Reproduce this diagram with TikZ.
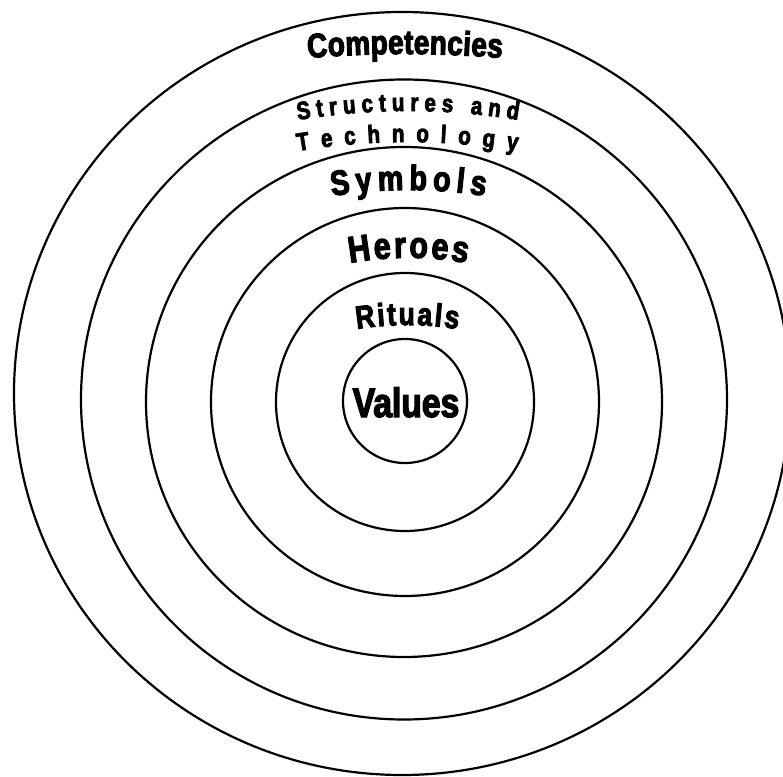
\documentclass[tikz,border=0pt]{standalone}
\usepackage{fontspec}
\newfontfamily\ringfont[FakeStretch=0.82,FakeBold=3.2]{Liberation Sans Bold}
\usetikzlibrary{decorations.text}

\begin{document}
\begin{tikzpicture}[x=1pt, y=1pt,
    ring/.style={draw=black, line width=2.2pt},
    arclabel/.style 2 args={decorate, decoration={text along path,
        text align={fit to path},
        text={|\ringfont\fontsize{#1}{#1}\selectfont|#2}}}
]
\useasboundingbox (-405,-375) rectangle (378,401);
\clip (-405,-375) rectangle (378,401);

% Rings, from the core outwards
\draw[ring] (0,0) circle[radius=62];
\draw[ring] (0,-1) circle[radius=129];
\draw[ring] (0,-1) circle[radius=194];
\draw[ring] (-1,-1) ellipse[x radius=258, y radius=255];
\draw[ring] (-1,1.5) ellipse[x radius=323, y radius=320];
\draw[ring] (-3,7.5) ellipse[x radius=388, y radius=381.5];

% Arched labels of the rings
\path[arclabel={34}{Competencies}] (-97,343) .. controls (-32,348.3) and (32,348.3) .. (97,343);
\path[arclabel={25}{Structures and}] (-107,281) .. controls (-34,293) and (40,293) .. (113,281);
\path[arclabel={25}{Technology}] (-107,250) .. controls (-34,262) and (39,262) .. (112,250);
\path[arclabel={35}{Symbols}] (-73,205) .. controls (-22,213) and (29,213) .. (80,205);
\path[arclabel={37}{Heroes}] (-55,138) .. controls (-16,145) and (23,145) .. (62,138);
\path[arclabel={32}{Rituals}] (-48,72) .. controls (-14,77.3) and (19,77.3) .. (53,72);

% Core
\node[font=\ringfont\fontsize{41}{41}\selectfont, anchor=base, inner sep=0pt] (values) at (1,-16) {Values};

\end{tikzpicture}
\end{document}
